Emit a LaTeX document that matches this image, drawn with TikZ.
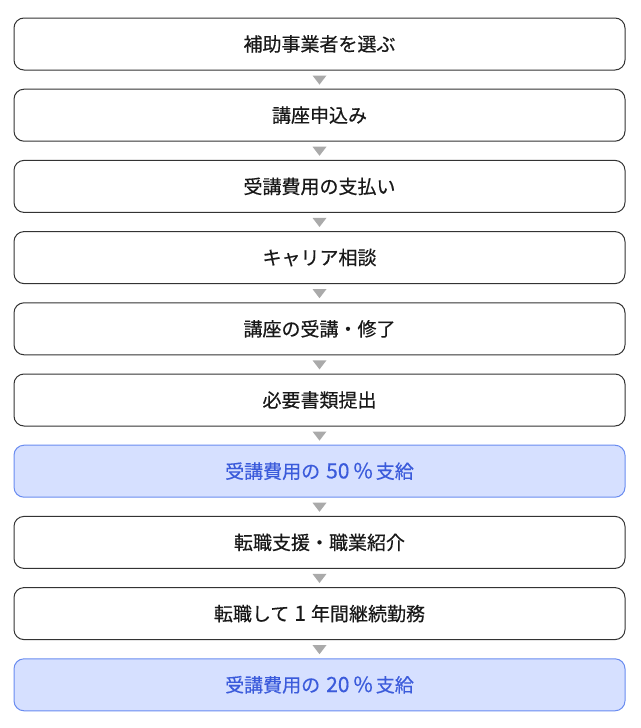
\documentclass[tikz,border=0pt]{standalone}
\usepackage{fontspec}
\setmainfont{Noto Sans CJK JP}[FakeBold=0.4]
\usetikzlibrary{calc}
\definecolor{boxline}{HTML}{333333}
\definecolor{bluefill}{HTML}{D6E0FF}
\definecolor{blueline}{HTML}{6A8CF0}
\definecolor{bluetext}{HTML}{3B5BDB}
\definecolor{trigray}{HTML}{AAAAAA}
\newcommand{\bignum}[1]{{\fontsize{21}{22}\selectfont #1}}
\tikzset{
  stepbox/.style={draw=boxline, line width=1pt, rounded corners=10pt, fill=white,
    minimum width=611pt, minimum height=52pt, inner sep=0pt, font=\fontsize{19}{22}\selectfont, text=black!90},
  paybox/.style={stepbox, draw=blueline, fill=bluefill, text=bluetext},
  tri/.style={fill=trigray}
}
\begin{document}
\begin{tikzpicture}[x=1pt,y=-1pt]
\useasboundingbox (0,0) rectangle (640,728);
\def\cx{319.5}
\node[stepbox] (s1) at (\cx,44) {補助事業者を選ぶ};
\node[stepbox] (s2) at (\cx,115.2) {講座申込み};
\node[stepbox] (s3) at (\cx,186.4) {受講費用の支払い};
\node[stepbox] (s4) at (\cx,257.6) {キャリア相談};
\node[stepbox] (s5) at (\cx,328.8) {講座の受講・修了};
\node[stepbox] (s6) at (\cx,400) {必要書類提出};
\node[paybox]  (s7) at (\cx,471.2) {受講費用の\hspace{6pt}\bignum{50}\hspace{4pt}\bignum{\%}\hspace{3pt}支給};
\node[stepbox] (s8) at (\cx,542.4) {転職支援・職業紹介};
\node[stepbox] (s9) at (\cx,613.6) {転職して\hspace{5pt}\bignum{1}\hspace{5pt}年間継続勤務};
\node[paybox]  (s10) at (\cx,684.8) {受講費用の\hspace{6pt}\bignum{20}\hspace{4pt}\bignum{\%}\hspace{3pt}支給};
\foreach \a/\b in {s1/s2,s2/s3,s3/s4,s4/s5,s5/s6,s6/s7,s7/s8,s8/s9,s9/s10}{
  \fill[tri] ($(\a.south)+(-7,5)$) -- ($(\a.south)+(7,5)$) -- ($(\a.south)!0.5!(\b.north)+(0,5)$) -- cycle;
}
\end{tikzpicture}
\end{document}
